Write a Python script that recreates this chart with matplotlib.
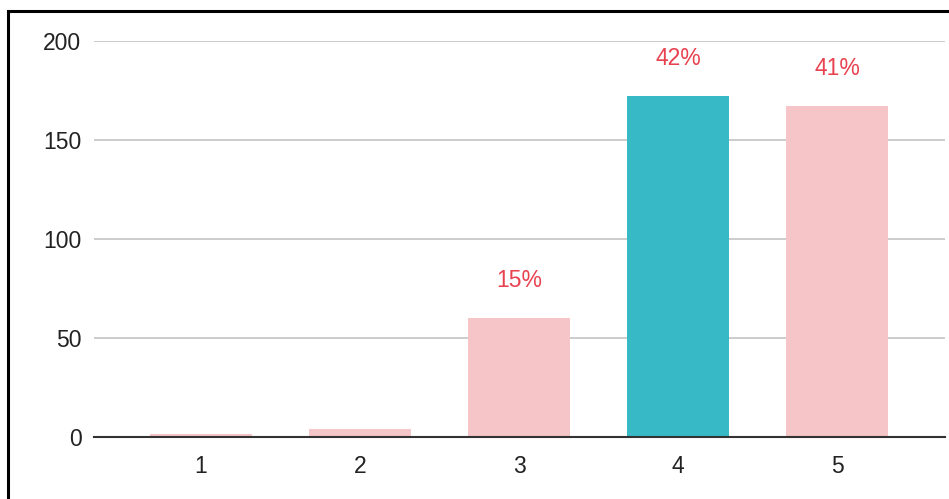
import matplotlib.pyplot as plt
from matplotlib.patches import Rectangle

categories = ["1", "2", "3", "4", "5"]
counts = [1.5, 4, 60, 172, 167]
shares = ["", "", "15%", "42%", "41%"]
highlight = "4"

PINK = "#f5c5c7"
TEAL = "#38b9c6"
RED = "#e8414f"

plt.rcParams["font.family"] = ["Liberation Sans", "DejaVu Sans"]

fig = plt.figure(figsize=(9.49, 4.99), dpi=100)
ax = fig.add_axes([0.099, 0.1242, 0.897, 0.7936])

positions = list(range(1, len(categories) + 1))
colors = [TEAL if c == highlight else PINK for c in categories]
ax.bar(positions, counts, width=0.64, color=colors, zorder=3)

for x, y, s in zip(positions, counts, shares):
    if s:
        ax.annotate(s, (x, y), xytext=(0, 27), textcoords="offset points",
                    ha="center", va="center", color=RED, fontsize=16.5)

ax.set_xlim(0.327, 5.68)
ax.set_ylim(0, 200)
ax.set_yticks([0, 50, 100, 150, 200])
ax.set_xticks(positions)
ax.set_xticklabels(categories)
ax.tick_params(axis="both", length=0, labelsize=16.5, colors="#222222")
ax.tick_params(axis="y", pad=9)
ax.tick_params(axis="x", pad=13)

ax.grid(axis="y", color="#cccccc", linewidth=1.4, zorder=0)
for side in ["top", "right", "left"]:
    ax.spines[side].set_visible(False)
ax.spines["bottom"].set_color("#333333")
ax.spines["bottom"].set_linewidth(1.5)
ax.spines["bottom"].set_zorder(4)

# frame around the figure, open at the right and bottom edges
fig.patches.append(Rectangle((8 / 949, -0.1), 1.2, (499 - 11) / 499 + 0.1,
                             transform=fig.transFigure, fill=False,
                             edgecolor="black", linewidth=2.2))

fig.savefig("out.png", dpi=100)
